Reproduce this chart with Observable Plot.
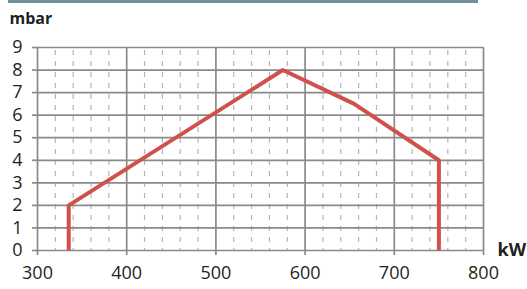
<!DOCTYPE html>
<html><head><meta charset="utf-8">
<script src="https://cdn.jsdelivr.net/npm/d3@7"></script>
<script src="https://cdn.jsdelivr.net/npm/@observablehq/plot@0.6"></script>
<style>
body{margin:0;background:#fff;}
#wrap{position:relative;width:527px;height:289px;overflow:hidden;font-family:"Open Sans",sans-serif;}
#bar{position:absolute;left:8px;top:0;width:470px;height:3px;background:#6d909c;}
#wrap svg{position:absolute;left:0;top:0;}
</style></head>
<body><div id="wrap"><div id="bar"></div></div>
<script>
const powerKW = [335, 335, 575, 655, 750, 750];
const pressureMbar = [0, 2, 8, 6.5, 4, 0];
const xTicks = [300, 400, 500, 600, 700, 800];
const yTicks = [0, 1, 2, 3, 4, 5, 6, 7, 8, 9];
const minorX = d3.range(300, 801, 20).filter(v => v % 100 !== 0);
const yLabel = "mbar";
const xLabel = "kW";

const data = powerKW.map((x, i) => ({x, y: pressureMbar[i]}));

const chart = Plot.plot({
  width: 527, height: 289,
  marginLeft: 37, marginRight: 44, marginTop: 47, marginBottom: 39,
  style: {fontFamily: "'Open Sans', sans-serif", color: "#231f20", background: "transparent", overflow: "visible"},
  x: {domain: [300, 800], ticks: xTicks, label: null},
  y: {domain: [0, 9], ticks: yTicks, label: null},
  marks: [
    Plot.ruleX(minorX, {stroke: "#b5b5b5", strokeWidth: 1.2, strokeDasharray: "5,6", strokeDashoffset: -3}),
    Plot.gridY(yTicks, {stroke: "#8a8a8a", strokeOpacity: 1, strokeWidth: 1.7}),
    Plot.gridX(xTicks, {stroke: "#8a8a8a", strokeOpacity: 1, strokeWidth: 1.7}),
    Plot.axisX(xTicks, {tickSize: 5, tickPadding: 11, stroke: "#8a8a8a", strokeWidth: 1.7, fontSize: 18, fill: "#231f20", label: null, tickFormat: d => d}),
    Plot.axisY(yTicks, {tickSize: 5, tickPadding: 10, stroke: "#8a8a8a", strokeWidth: 1.7, fontSize: 18, fill: "#231f20", label: null}),
    Plot.line(data, {x: "x", y: "y", stroke: "#d0504a", strokeWidth: 4, strokeLinejoin: "miter", strokeLinecap: "butt"}),
    Plot.text([yLabel], {frameAnchor: "top-left", text: d => d, dx: -28, dy: -24, fontSize: 16, fontWeight: "bold", fill: "#231f20", textAnchor: "start", lineAnchor: "bottom"}),
    Plot.text([xLabel], {frameAnchor: "bottom-right", text: d => d, dx: 14, dy: 5, fontSize: 18, fontWeight: "bold", fill: "#231f20", textAnchor: "start", lineAnchor: "bottom"})
  ]
});
document.getElementById("wrap").appendChild(chart);
</script></body></html>
